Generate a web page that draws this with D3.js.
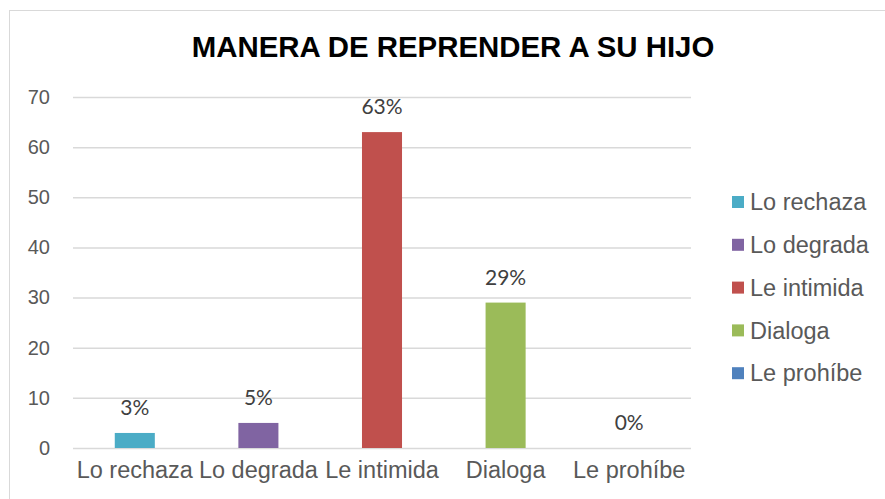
<!DOCTYPE html>
<html>
<head>
<meta charset="utf-8">
<script src="https://cdn.jsdelivr.net/npm/d3@7"></script>
<style>
  body { margin: 0; background: #fff; }
  svg { display: block; }
</style>
</head>
<body>
<div id="chart"></div>
<script>
// data
var categories = ["Lo rechaza", "Lo degrada", "Le intimida", "Dialoga", "Le prohíbe"];
var values = [3, 5, 63, 29, 0];
var labels = ["3%", "5%", "63%", "29%", "0%"];
var colors = ["#4BACC6", "#8064A2", "#C0504D", "#9BBB59", "#4F81BD"];
var yTicks = [0, 10, 20, 30, 40, 50, 60, 70];
var title = "MANERA DE REPRENDER A SU HIJO";

var W = 885, H = 499;
var margin = {top: 97, right: 194, bottom: 51, left: 73},
    width = W - margin.left - margin.right,
    height = H - margin.top - margin.bottom;

var svg = d3.select("#chart")
  .append("svg")
    .attr("width", W)
    .attr("height", H);

// chart frame (runs off the right and bottom edge)
svg.append("rect")
  .attr("x", 9.5).attr("y", 10.5)
  .attr("width", 900).attr("height", 520)
  .attr("fill", "none")
  .attr("stroke", "#D9D9D9")
  .attr("stroke-width", 1);

// title
svg.append("text")
  .attr("x", 453).attr("y", 57)
  .attr("text-anchor", "middle")
  .style("font-family", "'Liberation Sans', Arial, sans-serif")
  .style("font-weight", "bold")
  .style("font-size", "29.4px")
  .style("fill", "#000")
  .text(title);

var g = svg.append("g")
  .attr("transform", `translate(${margin.left},${margin.top})`);

// scales
var x = d3.scaleBand()
  .domain(categories)
  .range([0, width])
  .paddingInner(0.676)
  .paddingOuter(0.338);

var y = d3.scaleLinear()
  .domain([0, 70])
  .range([height, 0]);

// gridlines + y labels
var yAxis = g.append("g")
  .call(d3.axisLeft(y).tickValues(yTicks).tickSize(-width).tickPadding(23))
  .call(a => a.select(".domain").remove());
yAxis.selectAll(".tick line")
  .attr("stroke", "#D9D9D9")
  .attr("stroke-width", 1.5);
yAxis.selectAll(".tick text")
  .style("font-family", "'Liberation Sans', Arial, sans-serif")
  .style("font-size", "20px")
  .style("fill", "#595959");

// x labels
var xAxis = g.append("g")
  .attr("transform", `translate(0,${height})`)
  .call(d3.axisBottom(x).tickSize(0).tickPadding(13))
  .call(a => a.select(".domain").remove());
xAxis.selectAll(".tick text")
  .style("font-family", "'Liberation Sans', Arial, sans-serif")
  .style("font-size", "23.5px")
  .style("fill", "#595959");

// bars
g.append("g")
  .selectAll("rect")
  .data(values)
  .join("rect")
    .attr("x", (d, i) => x(categories[i]))
    .attr("y", d => y(d))
    .attr("width", x.bandwidth())
    .attr("height", d => height - y(d))
    .attr("fill", (d, i) => colors[i]);

// data labels
g.append("g")
  .selectAll("text")
  .data(values)
  .join("text")
    .attr("x", (d, i) => x(categories[i]) + x.bandwidth() / 2)
    .attr("y", d => y(d) - 18)
    .attr("text-anchor", "middle")
    .style("font-family", "Lato, 'Open Sans', sans-serif")
    .style("font-size", "21px")
    .style("fill", "#404040")
    .text((d, i) => labels[i]);

// legend
var legend = svg.append("g")
  .attr("transform", "translate(732,202)");
var items = legend.selectAll("g")
  .data(categories)
  .join("g")
    .attr("transform", (d, i) => `translate(0,${i * 42.8})`);
items.append("rect")
  .attr("x", 0).attr("y", -6)
  .attr("width", 12).attr("height", 12)
  .attr("fill", (d, i) => colors[i]);
items.append("text")
  .attr("x", 18).attr("y", 0)
  .attr("dy", "0.35em")
  .style("font-family", "'Liberation Sans', Arial, sans-serif")
  .style("font-size", "23.5px")
  .style("fill", "#595959")
  .text(d => d);
</script>
</body>
</html>
